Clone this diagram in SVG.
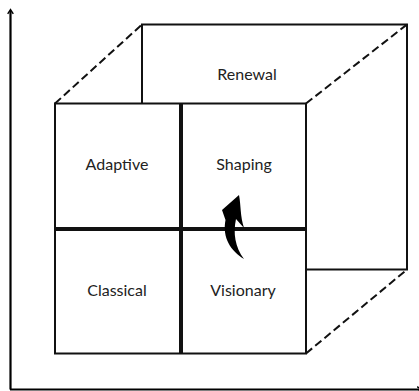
<svg xmlns="http://www.w3.org/2000/svg" width="419" height="391" viewBox="0 0 419 391">
<style>
.ax{stroke:#000;stroke-width:2.2;fill:none}
.edge{stroke:#111;stroke-width:2;fill:none}
.dash{stroke:#111;stroke-width:2;fill:none;stroke-dasharray:8 4}
.box{stroke:#111;stroke-width:2;fill:#fff}
.div{stroke:#111;stroke-width:4;fill:none}
.lbl{font-family:"Lato","Noto Sans",sans-serif;font-size:16px;fill:#222;text-anchor:middle;dominant-baseline:central}
</style>
<defs>
<marker id="ah" viewBox="0 0 10 10" refX="5" refY="5" markerWidth="7" markerHeight="7" orient="auto" markerUnits="userSpaceOnUse">
<path d="M1,1 L7,5 L1,9" fill="none" stroke="#000" stroke-width="2"/>
</marker>
</defs>
<g id="axes">
<line class="ax" x1="10.5" y1="389.5" x2="10.5" y2="11" marker-end="url(#ah)"/>
<line class="ax" x1="10" y1="389.5" x2="420" y2="389.5" marker-end="url(#ah)"/>
</g>
<g id="back">
<rect class="edge" x="142" y="24.5" width="265" height="245"/>
</g>
<g id="connectors">
<line class="dash" x1="55" y1="103.5" x2="142" y2="24.5"/>
<line class="dash" x1="306" y1="103.5" x2="407" y2="24.5"/>
<line class="dash" x1="306" y1="353.5" x2="407" y2="269.5"/>
</g>
<g id="front">
<rect class="box" x="55" y="103.5" width="251" height="250"/>
<line class="div" x1="181" y1="103" x2="181" y2="354"/>
<line class="div" x1="55" y1="229" x2="306" y2="229"/>
</g>
<g id="renewal"><text class="lbl" x="247" y="73">Renewal</text></g>
<g id="adaptive"><text class="lbl" x="117" y="163">Adaptive</text></g>
<g id="shaping"><text class="lbl" x="244" y="163">Shaping</text></g>
<g id="classical"><text class="lbl" x="117" y="289">Classical</text></g>
<g id="visionary"><text class="lbl" x="243" y="289">Visionary</text></g>
<g id="curved-arrow">
<path d="M244,259 C231,251 222,238 225.5,220 L222,210 L239,195 C241,205 240,216 244,228 L236,219 C233,233 235,247 244,259 Z" fill="#000"/>
</g>
</svg>
